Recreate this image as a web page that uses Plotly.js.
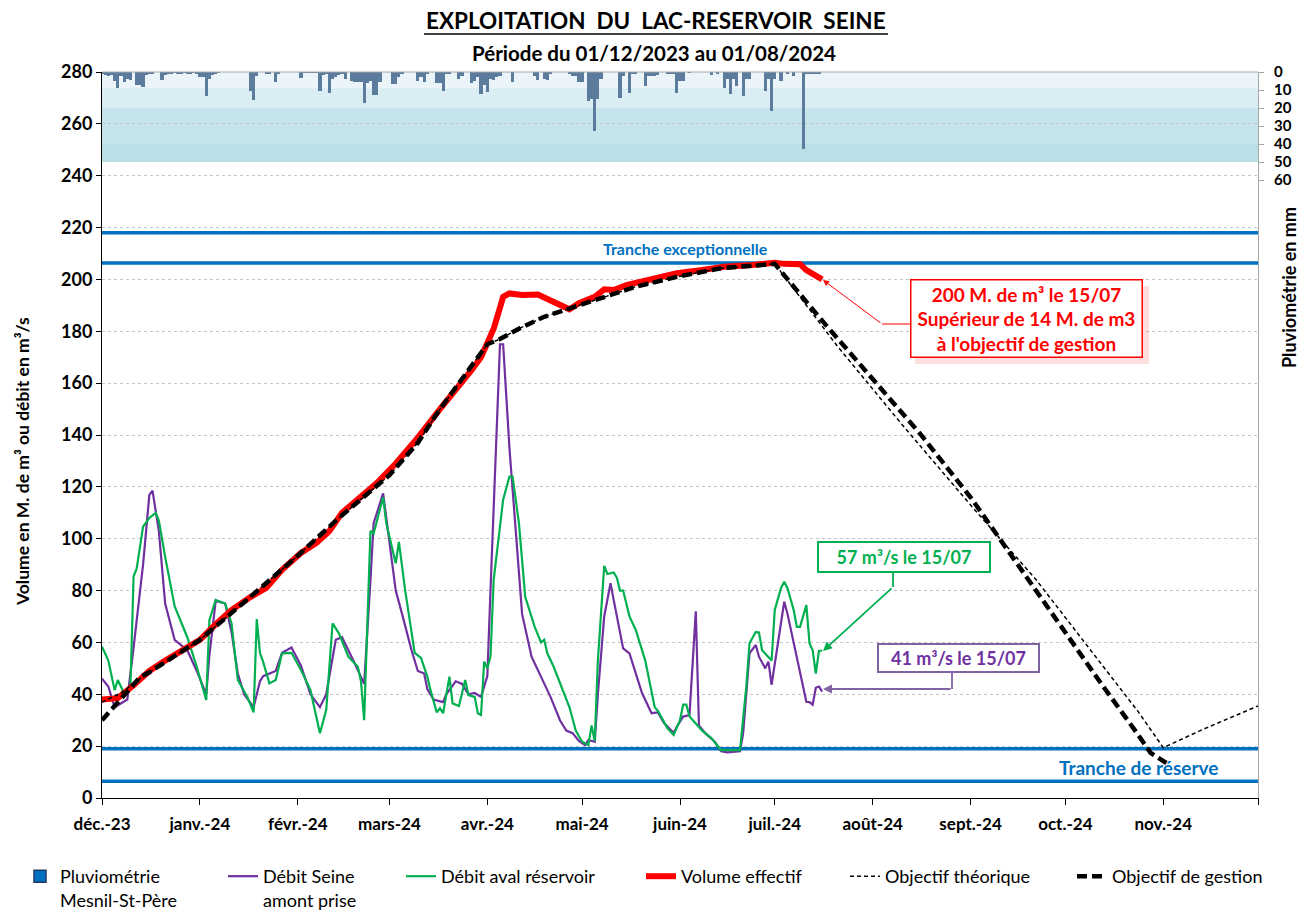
<!DOCTYPE html>
<html><head><meta charset="utf-8">
<script src="https://cdn.plot.ly/plotly-3.0.1.min.js"></script>
<style>html,body{margin:0;padding:0;background:#fff;}#chart{width:1306px;height:914px;}</style>
</head><body><div id="chart"></div>
<script>
// ---------- DATA ----------
// daily rainfall (mm) at Mesnil-St-Père, day 0 = 2023-12-01
const pluvioMm = [
 1.3,1.5,2,1.5,5,8.7,2,5.5,4,4.5,
 0,7.4,7.4,8.3,1.5,1,1,0,0,4.4,
 1.5,1,1,0.8,1,1,0.5,1,1,0.5,
 1,3,3,13.3,4,1.5,1,0.5,0,0,
 0,0,0,0,0,0,0,10.6,15.6,2,
 0,0,1,1,0,5.5,1,0,0,0,
 0,0,0,3.5,0.5,0.5,0.5,0.5,0.5,10.6,
 1.5,1,11.5,4,3,1.5,1,3.7,0,5,
 5.5,5.5,5.5,17.4,6,5,13,13,5.5,0,
 0,0,6.8,6.8,3,1.3,0,0,0,0,
 5,3,5.5,1,0,0,6,6,10.5,1,
 1,0,0,4,2,0,0,6,5,3,
 12.4,7,11,4,4.5,3,2,0,0,0,
 5.5,0,0,0,0,0,0,2,4.5,0,
 3.7,4.5,1.2,0,0,0,0,0,1.2,2,
 2,5.5,5.5,0,16,15,33,15,4,0,
 0,0,0,0,14.6,2,0,11.5,1,1,
 0,0,8,2,2,2,1.5,0,0,1,
 1,1,11.5,5,5,0,0.5,0,0,0,
 0,0,0,1.5,0,1,0,8.7,4,12.4,
 4,7.8,0,13.3,4,3.7,0,0,0,0,
 10.6,4,21.7,4,0,5,0,1,0,2,
 0,0,42.6,1,1,1,1,1
];

// Débit Seine amont prise (m3/s), days after 2023-12-01
const seineDays = [0,2,4,8,10,13,15,16,18,20,23,27,30,33,34,36,39,41,43,45,48,50,51,55,57,60,63,66,69,71,74,76,80,83,85,86,89,90,93,95,98,100,102,103,105,108,109,112,114,116,118,120,122,123,125,126,127,129,131,133,136,139,142,145,147,149,151,153,154,156,157,159,161,162,165,167,169,171,174,176,178,181,182,184,186,187,188,189,191,194,196,198,201,202,203,204,205,207,208,210,211,212,214,216,217,219,221,223,224,225,226,227,228];
const seineFlow = [46,43,35,38,58,90,117,118.5,103,75,61,57,49,40,55,76,75,64,48,40,35,45,47,49,56,58,51,40,35,40,61,62,52,44,84,106,117.5,108.5,80,71,57,49,48,42,38,37,40,45,44,40,40.5,39,47,80,142,175,175,135,103,71,54.5,47,39,30,26,25,22,20.4,22.4,21.7,40,70,82.8,76.4,57.7,55.8,48,40.4,32.7,33,28.8,25.2,27.5,31.4,32,53,72,28,25,21.7,18,17.6,18,18,25,40,55.8,59,54.5,50,52.6,43.6,59.7,75.7,71.2,59.7,49.4,37.1,37,36,42.5,43,41];

// Débit aval réservoir (m3/s)
const avalDays = [0,2,4,5,7,9,10,11,13,15,17,18,20,23,27,30,33,34,36,39,41,43,46,48,49,50,51,53,55,57,60,63,66,68,69,71,73,75,78,81,82,83,84,85,86,89,90,93,94,96,99,101,103,104,106,107,108,110,111,113,115,116,118,119,120,121,122,123,124,127,129,130,132,134,137,139,140,141,143,145,148,150,152,154,155,156,157,159,160,162,163,164,165,167,168,169,172,175,176,179,181,183,184,185,186,187,190,193,196,198,202,204,205,207,208,209,212,213,215,216,217,219,220,221,223,224,225,226,227,228];
const avalFlow = [58.4,53,41.6,45.5,40.4,43,85.4,88.6,104.6,108,110,107,93,74,62,50.6,37.8,68.6,76.4,75,67.4,45.5,39,33,69,56,52.6,44.2,45.5,55.8,56,49.4,41.6,30,25,34,67.4,63.5,54.5,50.6,45,30,71,103,102,116,106,90.5,98.8,80,56,54,46.8,41.6,33,34.6,32.7,46.8,36.5,35.5,45.5,39.7,39,32.7,32,52.6,50,54.5,84,115,124,124,106,77.6,66,60,61,55.8,50.6,44.2,35,26,21.7,20.4,28,22,53,89.5,86.4,87,85,80,80,70,67.3,64.8,53,35,33.6,27,24.3,30,36,36,31.4,30,26,23,18.5,18.5,18.5,43,59.7,64,63.8,57,53,72.5,81,83.4,81,72.5,66,66,74.4,59.7,57,48,56.8,56.8];

// Volume effectif (M. m3)
const volDays = [0,5,10,15,20,27,31,36,41,47,52,57,63,68,72,76,82,87,93,100,107,113,117,120,123,124,125,126,127,129,133,138,142,145,148,151,156,159,162,166,171,177,182,190,197,206,213,216,221,223,225,227,228];
const volValues = [38,38.5,43.5,49,53,58,61,67,72.5,77.5,81,88,94.5,98.5,103,110,116,121.5,129,139,150,158.5,165,170,178,181,185,190,193.3,194.6,194,194.2,192,190.1,188.5,190.8,193.3,196.2,195.9,197.8,199.1,201,202.4,203.6,204.9,205.6,206.4,206,205.9,203.6,202,200.5,200];

// Objectif théorique (M. m3)
const theoDays = [0,6,12,15,31,45,62,75,91,100,107,116,122,126,132,140,148,159,169,182,196,213,233,254,275,296,317,328,336,349,366];
const theoValues = [37,40.5,46,48.5,61,75.5,93.5,108,124.5,137,150,165,175,177,181,185.6,188.8,193.3,197.2,201,204.3,206,174,143,113,83.8,50.6,33.4,19.4,26.7,35.5];

// Objectif de gestion (M. m3)
const gestDays = [0,6,12,15,31,45,62,75,91,100,107,116,122,126,132,140,148,159,169,182,196,213,227,243,259,275,285,296,306,317,328,332,337];
const gestValues = [30,38,46.5,48.5,61,75.5,93.5,108,124.5,137,150,165,175,177,181,185.6,188.8,193.3,197.2,201,204.3,206,185.5,163,140.5,116,98.5,79,61.5,43,24.5,17.4,13.5];

const monthTicks = ['2023-12-01','2024-01-01','2024-02-01','2024-03-01','2024-04-01','2024-05-01','2024-06-01','2024-07-01','2024-08-01','2024-09-01','2024-10-01','2024-11-01','2024-12-01'];
const monthLabels = ['déc.-23','janv.-24','févr.-24','mars-24','avr.-24','mai-24','juin-24','juil.-24','août-24','sept.-24','oct.-24','nov.-24',''];
const leftTicks = [0,20,40,60,80,100,120,140,160,180,200,220,240,260,280];
const rainTicks = [0,10,20,30,40,50,60];
const trancheLevels = [218, 206.3, 19, 6.5];
const rainBands = [[0,9],[9,20],[20,40],[40,50]];

// ---------- HELPERS ----------
const DAY_MS = 86400000;
function dayToDate(d){ return new Date(Date.UTC(2023,11,1) + d*DAY_MS).toISOString().slice(0,10); }
const PL=102, PR=1258, PT=72, PB=798;
const px = v => (v-PL)/(PR-PL);
const py = v => (PB-v)/(PB-PT);
const FONT = 'Lato, "Open Sans", sans-serif';

// ---------- TRACES ----------
const traces = [
 {type:'bar', name:'Pluviométrie', x: pluvioMm.map((_,i)=>dayToDate(i)), y: pluvioMm, yaxis:'y2',
  width: DAY_MS, marker:{color:'#5b7c9c', line:{width:0}}, showlegend:false, hoverinfo:'x+y'},
 {type:'bar', name:'Pluviométrie<br>Mesnil-St-Père', x:['2023-10-01'], y:[0], yaxis:'y2',
  marker:{color:'#0070C0', line:{color:'#1f3864', width:1.5}}, legendwidth:158},
 {type:'scatter', mode:'lines', name:'Débit Seine<br>amont prise', x: seineDays.map(dayToDate), y: seineFlow,
  line:{color:'#7030A0', width:2.2}, legendwidth:133},
 {type:'scatter', mode:'lines', name:'Débit aval réservoir', x: avalDays.map(dayToDate), y: avalFlow,
  line:{color:'#00B050', width:2.2}, legendwidth:195},
 {type:'scatter', mode:'lines', name:'Volume effectif', x: volDays.map(dayToDate), y: volValues,
  line:{color:'#FF0000', width:6}, legendwidth:159},
 {type:'scatter', mode:'lines', name:'Objectif théorique', x: theoDays.map(dayToDate), y: theoValues,
  line:{color:'#000', width:1.5, dash:'4px,3px'}, legendwidth:182},
 {type:'scatter', mode:'lines', name:'Objectif de gestion', x: gestDays.map(dayToDate), y: gestValues,
  line:{color:'#000', width:4.5, dash:'10px,5px'}, legendwidth:156}
];

// ---------- SHAPES ----------
const bandColors = ['#eaf4f9','#d9edf3','#c5e4eb','#badfe7'];
const shapes = [];
rainBands.forEach((b,i)=>shapes.push({type:'rect', xref:'paper', yref:'y2', x0:0, x1:1, y0:b[0], y1:b[1],
  fillcolor: bandColors[i], line:{width:0}, layer:'below'}));
trancheLevels.forEach(v=>shapes.push({type:'line', xref:'paper', yref:'y', x0:0, x1:1, y0:v, y1:v,
  line:{color:'#0070C0', width:3.5}, layer:'between'}));
// top border
shapes.push({type:'line', xref:'paper', yref:'paper', x0:0, x1:1, y0:1, y1:1, line:{color:'#a6a6a6', width:1}});
// title underline
shapes.push({type:'line', xref:'paper', yref:'paper', x0:px(424), x1:px(888), y0:py(34), y1:py(34), line:{color:'#000', width:1.5}});
// red box shadow
shapes.push({type:'rect', xref:'paper', yref:'paper', x0:px(915), x1:px(1149), y0:py(286), y1:py(364),
  fillcolor:'rgba(255,0,0,0.13)', line:{width:0}, layer:'above'});
// arrow connector segments
shapes.push({type:'line', xref:'paper', yref:'paper', x0:px(910), x1:px(882), y0:py(324), y1:py(324), line:{color:'#FF0000', width:1}});
shapes.push({type:'line', xref:'paper', yref:'paper', x0:px(893), x1:px(893), y0:py(573), y1:py(587), line:{color:'#00B050', width:1.8}});
shapes.push({type:'line', xref:'paper', yref:'paper', x0:px(952), x1:px(952), y0:py(673), y1:py(689), line:{color:'#8064A2', width:1.8}});

// ---------- ANNOTATIONS ----------
const ann = [];
function txt(t, x, y, size, color, extra){ return Object.assign({text:t, xref:'paper', yref:'paper', x:px(x), y:py(y),
  xanchor:'center', yanchor:'middle', showarrow:false, font:{family:FONT, size:size, color:color}}, extra||{}); }
ann.push(txt('<b>EXPLOITATION\u00a0\u00a0DU\u00a0\u00a0LAC-RESERVOIR\u00a0\u00a0SEINE</b>', 656, 21, 22.5, '#000'));
ann.push(txt('<b>Période du 01/12/2023 au 01/08/2024</b>', 654, 53, 20.5, '#000'));
ann.push(txt('<b>Volume en M. de m³ ou débit en m³/s</b>', 22, 462, 17.5, '#000', {textangle:-90}));
ann.push(txt('<b>Pluviométrie en mm</b>', 1289, 288, 18, '#000', {textangle:-90}));
ann.push(txt('<b>Tranche exceptionnelle</b>', 685, 248, 16, '#0070C0'));
ann.push(txt('<b>Tranche de réserve</b>', 1138, 767, 19, '#0070C0'));
ann.push(txt('<b>200 M. de m³ le 15/07<br>Supérieur de 14 M. de m3<br>à l\'objectif de gestion</b>', 1026.5, 318.5, 19, '#FF0000',
  {bordercolor:'#FF0000', borderwidth:1.5, borderpad:2, bgcolor:'#fff', width:226, align:'center'}));
ann.push(txt('<b>57 m³/s le 15/07</b>', 904, 557, 18, '#00B050',
  {bordercolor:'#00B050', borderwidth:2, borderpad:3, bgcolor:'#fff', width:164}));
ann.push(txt('<b>41 m³/s le 15/07</b>', 958.5, 658, 18, '#7030A0',
  {bordercolor:'#8064A2', borderwidth:2, borderpad:2, bgcolor:'#fff', width:155}));
// arrows
ann.push({text:'', xref:'paper', yref:'paper', x:px(823), y:py(280), ax:882-823, ay:324-280, showarrow:true,
  arrowhead:2, arrowsize:1.2, arrowwidth:1, arrowcolor:'#FF0000'});
ann.push({text:'', xref:'paper', yref:'paper', x:px(823), y:py(651), ax:893-823, ay:587-651, showarrow:true,
  arrowhead:2, arrowsize:1, arrowwidth:1.8, arrowcolor:'#00B050'});
ann.push({text:'', xref:'paper', yref:'paper', x:px(823), y:py(689), ax:952-823, ay:0, showarrow:true,
  arrowhead:2, arrowsize:1, arrowwidth:1.8, arrowcolor:'#8064A2'});

// ---------- LAYOUT ----------
const layout = {
  width:1306, height:914,
  margin:{l:PL, r:1306-PR, t:PT, b:914-PB, autoexpand:false},
  paper_bgcolor:'#fff', plot_bgcolor:'#fff',
  font:{family:FONT, color:'#000'},
  barmode:'overlay', bargap:0,
  showlegend:true,
  legend:{orientation:'h', x:px(20), xanchor:'left', y:py(858), yanchor:'top',
    font:{family:FONT, size:18, color:'#000'}, valign:'top', bgcolor:'rgba(0,0,0,0)', itemwidth:30, traceorder:'normal'},
  xaxis:{type:'date', range:['2023-12-01','2024-12-01'], tickvals:monthTicks, ticktext:monthLabels,
    ticks:'outside', ticklen:6, tickcolor:'#000', showline:true, linecolor:'#000', linewidth:1,
    showgrid:false, zeroline:false, tickangle:0, ticklabelstandoff:5,
    tickfont:{family:FONT, size:17, color:'#000', weight:700}},
  yaxis:{range:[0,280], tickvals:leftTicks, ticks:'outside', ticklen:5, tickcolor:'#000',
    showline:true, linecolor:'#000', linewidth:1, zeroline:false,
    showgrid:true, gridcolor:'#c4c4c4', griddash:'dot', gridwidth:1,
    tickfont:{family:FONT, size:18, color:'#000', weight:700}},
  yaxis2:{overlaying:'y', side:'right', range:[403.3,0], tickvals:rainTicks, ticks:'outside', ticklen:5,
    tickcolor:'#a6a6a6', showline:true, linecolor:'#a6a6a6', linewidth:1, showgrid:false, zeroline:false,
    ticklabelstandoff:7, tickfont:{family:FONT, size:15, color:'#000', weight:700}},
  shapes: shapes,
  annotations: ann
};

Plotly.newPlot('chart', traces, layout, {displayModeBar:false, staticPlot:true});
</script>
</body></html>
